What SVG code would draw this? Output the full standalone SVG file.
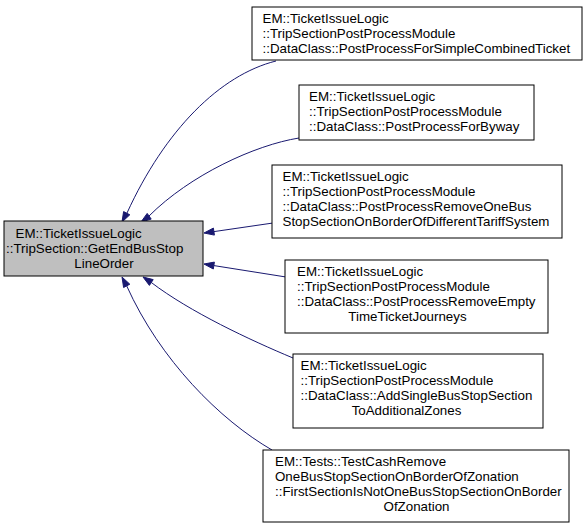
<svg xmlns="http://www.w3.org/2000/svg" width="587" height="526" viewBox="0 0 587 526">
<style>
  .bg { fill: #ffffff; }
  .node rect { fill: #ffffff; stroke: #000000; stroke-width: 1; }
  .node.main rect { fill: #bfbfbf; }
  .node text { font-family: "Liberation Sans", Arial, Helvetica, sans-serif; font-size: 13.33px; fill: #000000; }
  .c { text-anchor: middle; }
  .edge path { fill: none; stroke: #191970; stroke-width: 1; }
  .edge polygon { fill: #191970; stroke: #191970; stroke-width: 1; }
</style>
<rect class="bg" x="0" y="0" width="587" height="526"/>

<g id="connectors">
  <g class="edge" id="e1">
    <path d="M276,61 C220,75 165,130 127,213"/>
    <polygon points="122,222 129.8,214.8 123.6,211.6"/>
  </g>
  <g class="edge" id="e2">
    <path d="M299,138 C255,145 190,175 149,216"/>
    <polygon points="141,222 151.2,219.1 147.2,213.4"/>
  </g>
  <g class="edge" id="e3">
    <path d="M273,223 L214,231.6"/>
    <polygon points="204,233 214.4,235.1 213.4,228.1"/>
  </g>
  <g class="edge" id="e4">
    <path d="M286,277 L214,265.6"/>
    <polygon points="204,264 213.3,269 214.4,262.1"/>
  </g>
  <g class="edge" id="e5">
    <path d="M293,358 C250,340 190,312 151.3,282.5"/>
    <polygon points="143,277 149.4,285.4 153.2,279.6"/>
  </g>
  <g class="edge" id="e6">
    <path d="M272,450 C220,420 160,360 126.7,285.9"/>
    <polygon points="122,277 123.6,287.5 129.8,284.2"/>
  </g>
</g>

<g class="node main" id="node-main">
  <rect x="4" y="221" width="199" height="55"/>
  <text x="15.5" y="238">EM::TicketIssueLogic</text>
  <text x="6" y="253">::TripSection::GetEndBusStop</text>
  <text class="c" x="104" y="268">LineOrder</text>
</g>

<g class="node" id="node-1">
  <rect x="252" y="7" width="330" height="53"/>
  <text x="262.5" y="23">EM::TicketIssueLogic</text>
  <text x="262.5" y="38">::TripSectionPostProcessModule</text>
  <text x="262.5" y="53">::DataClass::PostProcessForSimpleCombinedTicket</text>
</g>

<g class="node" id="node-2">
  <rect x="299" y="85" width="235" height="55"/>
  <text x="309" y="101">EM::TicketIssueLogic</text>
  <text x="309" y="116">::TripSectionPostProcessModule</text>
  <text x="309" y="131">::DataClass::PostProcessForByway</text>
</g>

<g class="node" id="node-3">
  <rect x="272" y="165" width="290" height="73"/>
  <text x="282.5" y="181">EM::TicketIssueLogic</text>
  <text x="282.5" y="196">::TripSectionPostProcessModule</text>
  <text x="282.5" y="211">::DataClass::PostProcessRemoveOneBus</text>
  <text x="282.5" y="226">StopSectionOnBorderOfDifferentTariffSystem</text>
</g>

<g class="node" id="node-4">
  <rect x="285" y="260" width="263" height="73"/>
  <text x="297" y="276">EM::TicketIssueLogic</text>
  <text x="297" y="291">::TripSectionPostProcessModule</text>
  <text x="297" y="306">::DataClass::PostProcessRemoveEmpty</text>
  <text class="c" x="407.5" y="321">TimeTicketJourneys</text>
</g>

<g class="node" id="node-5">
  <rect x="293" y="354" width="250" height="74"/>
  <text x="300.5" y="370">EM::TicketIssueLogic</text>
  <text x="300.5" y="385">::TripSectionPostProcessModule</text>
  <text x="300.5" y="400">::DataClass::AddSingleBusStopSection</text>
  <text class="c" x="406.5" y="415">ToAdditionalZones</text>
</g>

<g class="node" id="node-6">
  <rect x="263" y="450" width="306" height="72"/>
  <text x="275" y="466">EM::Tests::TestCashRemove</text>
  <text x="275" y="481">OneBusStopSectionOnBorderOfZonation</text>
  <text x="275" y="496">::FirstSectionIsNotOneBusStopSectionOnBorder</text>
  <text class="c" x="416.5" y="511">OfZonation</text>
</g>
</svg>
